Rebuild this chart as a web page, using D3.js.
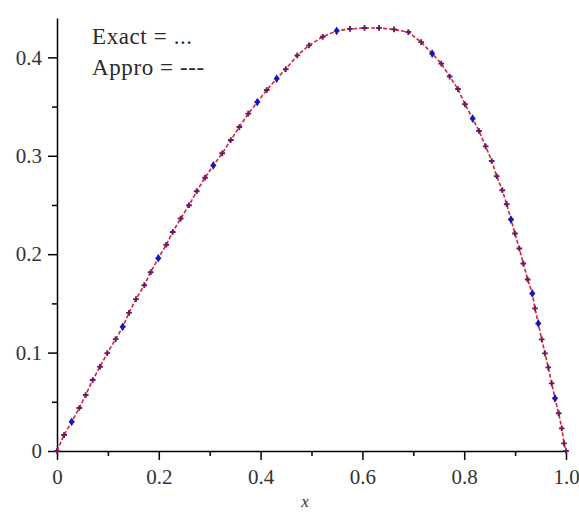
<!DOCTYPE html>
<html>
<head>
<meta charset="utf-8">
<script src="https://cdn.jsdelivr.net/npm/d3@7/dist/d3.min.js"></script>
<style>
  body { margin: 0; background: #fff; }
</style>
</head>
<body>
<div id="chart"></div>
<script>
// approximate solution
var approxX = [0, 0.0138, 0.0289, 0.0438, 0.0564, 0.0701, 0.0845, 0.0988, 0.1153, 0.1291,
  0.1415, 0.1552, 0.1715, 0.1841, 0.1990, 0.2147, 0.2273, 0.2430, 0.2593, 0.2745,
  0.2908, 0.3071, 0.3246, 0.3415, 0.3582, 0.3758, 0.3935, 0.4120, 0.4316, 0.4495,
  0.4721, 0.4951, 0.5220, 0.5495, 0.5756, 0.6041, 0.6326, 0.6621, 0.6902, 0.7155,
  0.7371, 0.7550, 0.7715, 0.7878, 0.8016, 0.8167, 0.8291, 0.8422, 0.8540, 0.8639,
  0.8748, 0.8835, 0.8919, 0.8998, 0.9082, 0.9161, 0.9247, 0.9338, 0.9391, 0.9456,
  0.9523, 0.9587, 0.9652, 0.9719, 0.9784, 0.9857, 0.9916, 0.9961, 1.0];
var approxY = [0, 0.0162, 0.0297, 0.0437, 0.0569, 0.0721, 0.0856, 0.0995, 0.1137, 0.1262,
  0.1404, 0.1543, 0.1685, 0.1817, 0.1959, 0.2096, 0.2226, 0.2362, 0.2497, 0.2640,
  0.2777, 0.2902, 0.3025, 0.3160, 0.3292, 0.3428, 0.3546, 0.3668, 0.3784, 0.3880,
  0.4020, 0.4122, 0.4209, 0.4270, 0.4289, 0.4299, 0.4299, 0.4284, 0.4257, 0.4155,
  0.4038, 0.3936, 0.3805, 0.3678, 0.3523, 0.3378, 0.3252, 0.3096, 0.2947, 0.2792,
  0.2650, 0.2508, 0.2352, 0.2210, 0.2058, 0.1906, 0.1743, 0.1601, 0.1449, 0.1296,
  0.1134, 0.0992, 0.0850, 0.0687, 0.0535, 0.0383, 0.0230, 0.0078, 0];

// exact solution points (blue markers)
var exactX = [0.0289, 0.1291, 0.1990, 0.3071, 0.3935, 0.4316, 0.5495, 0.7371, 0.8167,
  0.8919, 0.9338, 0.9456, 0.9784];
var exactY = [0.0297, 0.1262, 0.1959, 0.2902, 0.3546, 0.3784, 0.4270, 0.4038, 0.3378,
  0.2352, 0.1601, 0.1296, 0.0535];

var xMajor = [0, 0.2, 0.4, 0.6, 0.8, 1.0];
var xMinor = [0.1, 0.3, 0.5, 0.7, 0.9];
var yMajor = [0, 0.1, 0.2, 0.3, 0.4];
var yMinor = [0.05, 0.15, 0.25, 0.35];
var legendLines = ["Exact = ...", "Appro = ---"];

var W = 579, H = 512;
var serif = "'Liberation Serif', 'Times New Roman', serif";
var x = d3.scaleLinear().domain([0, 1]).range([57, 566]);
var y = d3.scaleLinear().domain([0, 0.44]).range([451, 18]);

var svg = d3.select("#chart").append("svg")
    .attr("width", W)
    .attr("height", H);

var fmt = function(d) { return d === 0 ? "0" : d3.format(".1f")(d); };

// x axis
var gx = svg.append("g").attr("transform", "translate(0," + y(0) + ")");
gx.call(d3.axisBottom(x).tickValues(xMajor).tickFormat(fmt).tickSize(9).tickPadding(9).tickSizeOuter(0));
gx.append("g").call(d3.axisBottom(x).tickValues(xMinor).tickFormat("").tickSize(5))
  .select(".domain").remove();

// y axis
var gy = svg.append("g").attr("transform", "translate(" + x(0) + ",0)");
gy.call(d3.axisLeft(y).tickValues(yMajor).tickFormat(fmt).tickSize(9).tickPadding(6).tickSizeOuter(0));
gy.append("g").call(d3.axisLeft(y).tickValues(yMinor).tickFormat("").tickSize(5))
  .select(".domain").remove();

svg.selectAll(".domain, .tick line").attr("stroke", "#000").attr("stroke-width", 1.5);
svg.selectAll(".tick text")
    .attr("font-family", serif)
    .attr("font-size", 21)
    .attr("fill", "#333");

svg.append("text")
    .attr("x", 305)
    .attr("y", 507)
    .attr("text-anchor", "middle")
    .attr("font-family", serif)
    .attr("font-style", "italic")
    .attr("font-size", 17)
    .attr("fill", "#333")
    .text("x");

// legend
svg.selectAll(".legend")
  .data(legendLines)
  .enter().append("text")
    .attr("class", "legend")
    .attr("x", 92)
    .attr("y", function(d, i) { return 44 + i * 31; })
    .attr("font-family", serif)
    .attr("font-size", 23)
    .attr("letter-spacing", 0.6)
    .attr("fill", "#2a2a2a")
    .text(function(d) { return d; });

var approx = approxX.map(function(v, i) { return [v, approxY[i]]; });
var exact = exactX.map(function(v, i) { return [v, exactY[i]]; });

var line = d3.line()
    .x(function(d) { return x(d[0]); })
    .y(function(d) { return y(d[1]); });

svg.append("path")
    .datum(approx)
    .attr("fill", "none")
    .attr("stroke", "#d8203c")
    .attr("stroke-width", 1.6)
    .attr("stroke-dasharray", "4,2")
    .attr("d", line);

svg.selectAll(".ap")
  .data(approx)
  .enter().append("path")
    .attr("class", "ap")
    .attr("transform", function(d) { return "translate(" + x(d[0]) + "," + y(d[1]) + ")"; })
    .attr("d", d3.symbol().type(d3.symbolCross).size(18))
    .attr("fill", "#6a1a5e");

svg.selectAll(".ex")
  .data(exact)
  .enter().append("path")
    .attr("class", "ex")
    .attr("transform", function(d) { return "translate(" + x(d[0]) + "," + y(d[1]) + ")"; })
    .attr("d", d3.symbol().type(d3.symbolDiamond).size(22))
    .attr("fill", "#1414c8");
</script>
</body>
</html>
